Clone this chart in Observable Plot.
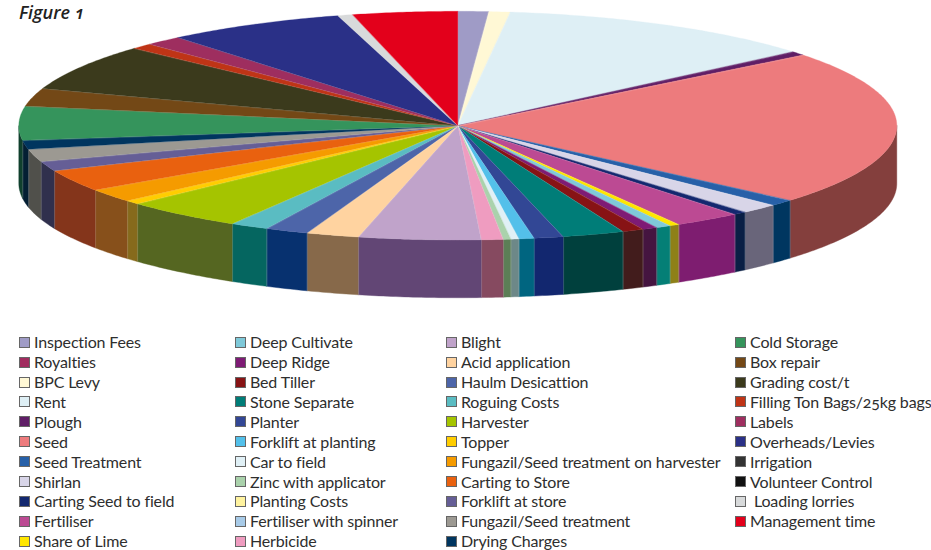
<!DOCTYPE html>
<html>
<head>
<meta charset="utf-8">
<script src="https://cdn.jsdelivr.net/npm/d3@7"></script>
<script src="https://cdn.jsdelivr.net/npm/@observablehq/plot@0.6"></script>
<style>
  html, body { margin: 0; padding: 0; background: #fff; }
  #page { position: relative; width: 931px; height: 550px; overflow: hidden; font-family: "Lato", sans-serif; color: #2e2e2e; }
  #page svg { display: block; position: absolute; left: 0; top: 0; }
  h1 { position: absolute; left: 19px; top: 0; margin: 0; font: italic 600 18px/24px "Open Sans", sans-serif; color: #222; z-index: 2; font-variant-numeric: oldstyle-nums; }
  .col { position: absolute; top: 332.3px; }
  .item { height: 19.9px; line-height: 19.9px; font-size: 16px; letter-spacing: -0.15px; white-space: pre; display: flex; align-items: center; font-variant-numeric: oldstyle-nums; }
  .sw { box-sizing: border-box; width: 11px; height: 11px; border: 1px solid #666; margin: 0 4px 0 0; flex: none; }
</style>
</head>
<body>
<div id="page"></div>
<script>
// Cost heads, clockwise from twelve o'clock
const labels = ["Inspection Fees","Royalties","BPC Levy","Rent","Plough","Seed","Seed Treatment","Shirlan","Carting Seed to field","Fertiliser","Share of Lime",
  "Deep Cultivate","Deep Ridge","Bed Tiller","Stone Separate","Planter","Forklift at planting","Car to field","Zinc with applicator","Planting Costs","Fertiliser with spinner","Herbicide",
  "Blight","Acid application","Haulm Desicattion","Roguing Costs","Harvester","Topper","Fungazil/Seed treatment on harvester","Carting to Store","Forklift at store","Fungazil/Seed treatment","Drying Charges",
  "Cold Storage","Box repair","Grading cost/t","Filling Ton Bags/25kg bags","Labels","Overheads/Levies","Irrigation","Volunteer Control"," Loading lorries","Management time"];

// Share of total cost, per cent
const shares = [1.13,0,0.78,11.92,0.58,21.94,0.91,1.40,0.48,2.48,0.36,
  0.55,0.55,0.79,2.28,1.08,0.56,0.29,0.28,0,0,0.80,
  4.49,1.94,1.59,1.42,4.44,0.54,1.90,3.09,1.36,1.77,1.26,
  4.79,2.54,6.53,0.82,1.37,6.60,0,0,0.55,3.85];

const topColors = ["#9F9BC6","#A12C5F","#FFF8D5","#DEEFF5","#5F1E66","#ED7B7D","#2760A8","#D8D5E8","#13286F","#BC4A93","#FFE600",
  "#7FC9D9","#7E1B75","#871315","#007D78","#324795","#53C0EA","#E0F0F6","#AAD2AC","#FFF39F","#A8CBE8","#EF9CC0",
  "#C0A3CA","#FFD3A0","#4D65A9","#5ABCC2","#A5C400","#FFCD00","#F59B00","#E9610F","#655E96","#9C9992","#00355F",
  "#35945C","#734816","#3B3A1C","#BF3416","#9E2E5F","#2A3087","#333333","#111111","#D8DADB","#E3001B"];

// Shaded tones for the rim of the disc
const wallColors = ["#4F4D63","#50162F","#807C6A","#6F777A","#2F0F33","#843F3D","#003660","#69657A","#0A1F45","#7E1D70","#8E8018",
  "#047F76","#451540","#421C1C","#00403D","#12276F","#006580","#6D8888","#5C7E56","#807A50","#546674","#864A60",
  "#624675","#87694A","#07316F","#056660","#556621","#866A1C","#87501B","#84351B","#30304D","#50504B","#041F33",
  "#10402D","#3A240B","#1D1D0E","#601A0B","#4F1730","#151844","#1A1A1A","#080808","#6C6D6D","#72000E"];

const legendColumns = [[0, 11], [11, 22], [22, 33], [33, 43]];
const legendLeft = [19, 235, 446, 735];
const thickness = 0.505; // rim depth, in disc radii

// Turn the shares into slices with start and end angles
const total = d3.sum(shares);
let running = 0;
const slices = labels.map((name, i) => {
  const a0 = running / total * 2 * Math.PI;
  running += shares[i];
  return {name, a0, a1: running / total * 2 * Math.PI, top: topColors[i], wall: wallColors[i]};
}).filter(s => s.a1 > s.a0);

const arcAngles = (a0, a1) => {
  const n = Math.max(1, Math.ceil((a1 - a0) / 0.01));
  return d3.range(n + 1).map(k => a0 + (a1 - a0) * k / n);
};

const topRows = slices.flatMap(s => arcAngles(s.a0, s.a1).map(a => ({name: s.name, fill: s.top, a})));

// Only the near half of the rim is visible
const wallRows = slices.flatMap(s => {
  const a0 = Math.max(s.a0, Math.PI / 2), a1 = Math.min(s.a1, 3 * Math.PI / 2);
  return a1 > a0 ? arcAngles(a0, a1).map(a => ({name: s.name, fill: s.wall, a})) : [];
});

const edges = slices.map(s => s.a0);
const wallEdges = edges.filter(a => a > Math.PI / 2 && a < 3 * Math.PI / 2);

const chart = Plot.plot({
  width: 931,
  height: 330,
  margin: 0,
  axis: null,
  style: {background: "transparent"},
  x: {domain: [-1, 1], range: [18.8, 896.8]},
  y: {domain: [1, -1], range: [11.3, 240]},
  color: {type: "identity"},
  marks: [
    Plot.area(wallRows, {
      x1: d => Math.sin(d.a), x2: d => Math.sin(d.a),
      y1: d => Math.cos(d.a), y2: d => Math.cos(d.a) - thickness,
      z: "name", fill: "fill", stroke: "fill", strokeWidth: 0.4, curve: "linear"
    }),
    Plot.link(wallEdges, {
      x1: a => Math.sin(a), x2: a => Math.sin(a),
      y1: a => Math.cos(a), y2: a => Math.cos(a) - thickness,
      stroke: "#fff", strokeOpacity: 0.25, strokeWidth: 0.6
    }),
    Plot.area(topRows, {
      x1: () => 0, y1: () => 0,
      x2: d => Math.sin(d.a), y2: d => Math.cos(d.a),
      z: "name", fill: "fill", stroke: "fill", strokeWidth: 0.3, curve: "linear"
    }),
    Plot.link(edges, {
      x1: () => 0, y1: () => 0,
      x2: a => Math.sin(a), y2: a => Math.cos(a),
      stroke: "#fff", strokeOpacity: 0.18, strokeWidth: 0.5
    })
  ]
});

const page = document.getElementById("page");
page.appendChild(chart);

const title = document.createElement("h1");
title.textContent = "Figure 1";
page.appendChild(title);

legendColumns.forEach(([from, to], c) => {
  const col = document.createElement("div");
  col.className = "col";
  col.style.left = legendLeft[c] + "px";
  for (let i = from; i < to; i++) {
    const item = document.createElement("div");
    item.className = "item";
    const sw = document.createElement("span");
    sw.className = "sw";
    sw.style.background = topColors[i];
    item.appendChild(sw);
    item.appendChild(document.createTextNode(labels[i]));
    col.appendChild(item);
  }
  page.appendChild(col);
});
</script>
</body>
</html>
